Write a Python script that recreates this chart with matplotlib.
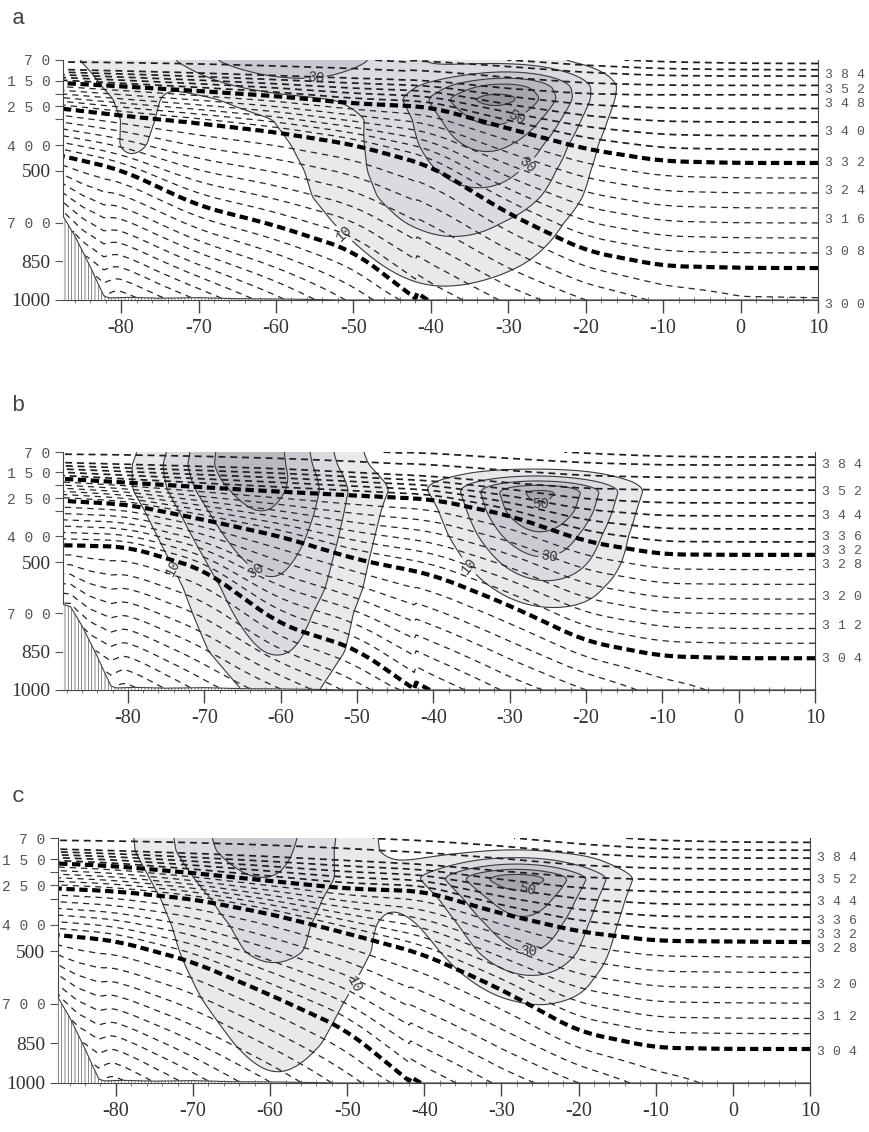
import numpy as np
import matplotlib
matplotlib.use("Agg")
import matplotlib.pyplot as plt
from matplotlib.ticker import MultipleLocator, FixedLocator
from matplotlib.transforms import blended_transform_factory

plt.rcParams['hatch.linewidth'] = 0.5

# ---------------- data ----------------
panel_names = ["a", "b", "c"]

# latitudes at which the key isentropes were traced
lat_nodes = [-90, -80, -70, -60, -50, -40, -30, -20, -10, 0, 10]

# pressure (hPa) of the 276 / 304 / 332 / 352 / 384 K surfaces along lat_nodes
p276 = {"a": [425, 495, 635, 712, 810, 1040, 1300, 1500, 1600, 1600, 1600],
        "b": [433, 440, 530, 745, 840, 1050, 1300, 1500, 1600, 1600, 1600],
        "c": [431, 460, 540, 665, 800, 1040, 1300, 1500, 1600, 1600, 1600]}
p304 = {"a": [250, 285, 315, 350, 398, 480, 665, 810, 868, 875, 876],
        "b": [258, 275, 335, 400, 490, 550, 670, 810, 868, 875, 875],
        "c": [258, 272, 302, 358, 432, 512, 645, 805, 866, 870, 871]}
p332 = {"a": [155, 172, 190, 210, 238, 252, 335, 415, 462, 469, 469],
        "b": [172, 190, 208, 225, 240, 255, 318, 420, 470, 472, 472],
        "c": [163, 177, 203, 233, 262, 272, 357, 425, 460, 463, 465]}
p352 = {"a": [105, 112, 120, 130, 140, 150, 180, 200, 205, 205, 205],
        "b": [110, 118, 126, 135, 150, 165, 190, 212, 218, 218, 218],
        "c": [110, 118, 128, 140, 155, 170, 195, 218, 227, 229, 229]}
p384 = {"a": [40, 45, 50, 55, 62, 75, 95, 118, 130, 132, 132],
        "b": [45, 50, 55, 60, 65, 75, 95, 112, 120, 121, 121],
        "c": [45, 50, 55, 60, 68, 80, 100, 128, 143, 146, 146]}
# potential temperature at the 70 hPa top
theta_top = {"a": [372, 373, 375, 378, 382, 390, 400, 412, 420, 424, 425],
             "b": [372, 373, 375, 378, 382, 388, 395, 402, 408, 410, 410],
             "c": [372, 373, 375, 378, 382, 388, 398, 410, 420, 424, 425]}

# surface potential temperature
sfc_lat = [-90, -87.5, -85, -83, -81, -78, -70, -60, -50, -40, -30, -20, -10, 0, 10]
theta_sfc = {"a": [252, 250, 245, 238, 233, 236, 245, 255, 265, 276.5, 285, 292, 297, 299.5, 299.7],
             "b": [252, 251, 246, 239, 234, 237, 246, 256, 266, 276.5, 285, 292, 298, 301.5, 302],
             "c": [252, 251, 246, 239, 234, 237, 246, 256, 266, 276.5, 285, 292, 298, 301.5, 302]}

# Antarctic topography (surface pressure)
topo_lat = [-90, -87.5, -86, -85, -84, -83, -82.2, -81.5, -79, -75, -70, -65, -60, -55, -52, 10]
topo_p = [650, 675, 750, 810, 870, 935, 985, 992, 990, 993, 991, 995, 996, 998, 1000, 1000]

# wind jets: axis speed (m/s), axis latitude and e-folding width (deg) on these levels
plev = [70, 120, 170, 220, 300, 400, 500, 600, 700, 850, 1000]
jets = {
    "a": [
        ([12, 28, 50, 60, 48, 35, 26, 19, 13, 7, 2],
         [-29, -29, -30, -31, -31, -31, -30.5, -30, -30, -30, -30],
         [11] * 11),
        ([0, 3, 7, 11, 14, 17, 19, 19, 17, 12, 6],
         [-52, -52, -51, -50, -48, -46, -45, -44, -43, -41, -40],
         [16, 16, 16, 16, 15, 15, 14, 14, 13, 12, 10]),
        ([40, 30, 20, 9, 3, 1, 0, 0, 0, 0, 0],
         [-58] * 11,
         [18] * 11),
        ([12, 12, 12, 12, 12, 11.5, 6, 0, 0, 0, 0],
         [-82, -80.5, -79.5, -78.5, -78, -78.5, -79, -79, -79, -79, -79],
         [4] * 11),
    ],
    "b": [
        ([46, 46, 45, 43, 40, 36, 32, 28.5, 25, 20.5, 15],
         [-64, -64, -63.5, -63, -62.5, -62, -61.5, -61, -61, -60.5, -60],
         [12, 12.5, 13, 13.5, 13, 12.5, 12, 11.5, 11, 10.5, 8]),
        ([2, 4, 22, 52, 49, 38, 28, 17, 8, 2, 0],
         [-27, -27, -26.5, -26, -26, -26, -25.5, -25, -24, -23, -23],
         [13, 13, 12, 10.5, 10, 10, 10, 10, 10, 10, 10]),
    ],
    "c": [
        ([35, 34, 32, 30, 26, 23, 21.5, 18, 15, 12.5, 9],
         [-62, -62, -61.5, -61, -60.5, -60, -59.5, -59.5, -59.5, -59, -59],
         [14, 14, 14, 14, 14, 14, 14, 14, 14, 12, 10]),
        ([5, 10, 30, 56, 46, 37, 30, 19, 10, 3, 0],
         [-28, -28, -28, -28, -27.5, -27, -26.5, -26, -25, -24, -24],
         [12, 12, 11.5, 11.5, 11, 10.5, 10, 10, 10, 10, 10]),
    ],
}

# where the wind contour labels sit (lat, hPa)
wind_label_pos = {"a": [(-51, 737), (-28, 465), (-29, 290), (-55, 100)],
                  "b": [(-74, 520), (-64, 562), (-34, 484), (-25, 445), (-26, 297)],
                  "c": [(-49, 628), (-26.5, 446), (-26.5, 279)]}

# isentrope labels on the right hand side
right_labels = {"a": [384, 352, 348, 340, 332, 324, 316, 308, 300],
                "b": [384, 352, 344, 336, 332, 328, 320, 312, 304],
                "c": [384, 352, 344, 336, 332, 328, 320, 312, 304]}
right_label_p = {"a": [128, 186, 241, 349, 469, 578, 690, 814, 1019],
                 "b": [121, 226, 320, 402, 457, 512, 637, 750, 879],
                 "c": [146, 229, 313, 385, 438, 491, 628, 750, 882]}

p_ticks = [70, 150, 250, 400, 500, 700, 850, 1000]
p_tick_labels = ["7 0", "1 5 0", "2 5 0", "4 0 0", "500", "7 0 0", "850", "1000"]
lat_ticks = [-80, -70, -60, -50, -40, -30, -20, -10, 0, 10]

# ---------------- grids ----------------
lat = np.linspace(-90, 10, 401)
p = np.linspace(70, 1000, 311)
LAT, P = np.meshgrid(lat, p)
ps = np.interp(lat, topo_lat, topo_p)


def smooth(y, n, axis=-1):
    y = np.moveaxis(np.asarray(y, float), axis, -1)
    pad = np.concatenate([np.repeat(y[..., :1], n, -1), y, np.repeat(y[..., -1:], n, -1)], -1)
    k = np.ones(n) / n
    out = np.apply_along_axis(lambda r: np.convolve(r, k, mode="same"), -1, pad)[..., n:-n]
    return np.moveaxis(out, -1, axis)


def theta_field(name):
    surf = {276: p276[name], 304: p304[name], 332: p332[name], 352: p352[name], 384: p384[name]}
    lev = {th: smooth(np.interp(lat, lat_nodes, v), 25) for th, v in surf.items()}
    top = smooth(np.interp(lat, lat_nodes, theta_top[name]), 25)
    ths = smooth(np.interp(lat, sfc_lat, theta_sfc[name]), 9)
    th = np.empty_like(LAT)
    for j in range(len(lat)):
        pp, tt = [70.0], [top[j]]
        for t in sorted(surf, reverse=True):
            pj = lev[t][j]
            if pj > pp[-1] + 1 and pj < ps[j] - 2 and t < tt[-1]:
                pp.append(pj)
                tt.append(t)
        pp.append(max(ps[j], pp[-1] + 1))
        tt.append(min(ths[j], tt[-1] - 0.2))
        th[:, j] = np.interp(p, pp, tt)
    return np.ma.masked_where(P > ps[None, :] + 1, th)


def wind_field(name):
    u = np.zeros_like(LAT)
    for speed, centre, width in jets[name]:
        U = np.interp(P, plev, speed)
        C = np.interp(P, plev, centre)
        W = np.interp(P, plev, width)
        u += U * np.exp(-((LAT - C) / W) ** 2)
    return smooth(u, 9, axis=0)


# ---------------- figure ----------------
fig = plt.figure(figsize=(8.69, 11.32), dpi=100)
rects = {"a": [0.0725, 0.7350, 0.8688, 0.2120],
         "b": [0.0725, 0.3905, 0.8654, 0.2102],
         "c": [0.0667, 0.0433, 0.8654, 0.2164]}
xlims = {"a": (-87.5, 10), "b": (-88.5, 10), "c": (-87.5, 10)}
letter_y = {"a": 0.984, "b": 0.642, "c": 0.296}

shade = ['#e9e9e9', '#dadae0', '#c9c9d1', '#b8b8c1', '#a6a6af', '#95959d']
thick = [276, 304, 332]
# 4 K interval in the troposphere, 16 K above 352 K
thin_low = [v for v in range(228, 332, 4) if v not in thick]
thin_high = list(range(336, 356, 4)) + list(range(368, 480, 16))

for name in panel_names:
    ax = fig.add_axes(rects[name])
    u = wind_field(name)
    th = theta_field(name)

    ax.contourf(LAT, P, u, levels=[10, 20, 30, 40, 50, 60, 200], colors=shade)
    ax.contour(LAT, P, u, levels=[20, 40, 60], colors='#3c3c3c', linewidths=0.8)
    cs = ax.contour(LAT, P, u, levels=[10, 30, 50], colors='#3c3c3c', linewidths=0.8)
    labs = ax.clabel(cs, manual=wind_label_pos[name], fmt='%d',
                     fontsize=10, inline=True, inline_spacing=2)
    for t in labs:
        t.set_fontfamily('Liberation Mono')
        t.set_color('#333333')

    ax.contour(LAT, P, th, levels=thin_low, colors='#262626', linewidths=0.9,
               linestyles=[(0, (5, 4))])
    ax.contour(LAT, P, th, levels=thin_high, colors='#1e1e1e', linewidths=1.25,
               linestyles=[(0, (4, 2.8))])
    ax.contour(LAT, P, th, levels=thick, colors='black', linewidths=3.0,
               linestyles=[(0, (2.0, 1.1))])

    ax.fill_between(topo_lat, topo_p, 1000, facecolor='white', edgecolor='#555555',
                    hatch='|||||', linewidth=0, zorder=3)
    ax.plot(topo_lat, topo_p, color='#444444', lw=0.8, zorder=4)

    ax.set_xlim(*xlims[name])
    ax.set_ylim(1000, 70)
    ax.set_yticks(p_ticks)
    ax.set_yticklabels(p_tick_labels)
    ax.yaxis.set_minor_locator(FixedLocator([200, 300]))
    for t in ax.get_yticklabels():
        if " " in t.get_text():
            t.set_fontfamily('Liberation Mono')
            t.set_fontsize(10.5)
            t.set_color('#555555')
        else:
            t.set_fontfamily('Liberation Serif')
            t.set_fontsize(14)
            t.set_color('#333333')
    ax.set_xticks(lat_ticks)
    ax.set_xticklabels([str(v) for v in lat_ticks], fontfamily='Liberation Serif',
                       fontsize=14.5, color='#333333')
    ax.xaxis.set_minor_locator(MultipleLocator(2))
    ax.tick_params(axis='x', which='major', direction='out', length=9, width=1.0,
                   color='#444444', pad=5)
    ax.tick_params(axis='x', which='minor', direction='inout', length=5, width=0.6,
                   color='#666666')
    ax.tick_params(axis='y', which='both', direction='out', length=6, width=0.8,
                   color='#555555', pad=3)
    ax.spines['top'].set_visible(False)
    for s in ['left', 'right', 'bottom']:
        ax.spines[s].set_linewidth(0.8)
        ax.spines[s].set_color('#444444')

    tr = blended_transform_factory(ax.transAxes, ax.transData)
    for val, pv in zip(right_labels[name], right_label_p[name]):
        ax.text(1.009, pv, " ".join(str(val)), transform=tr, ha='left', va='center',
                fontfamily='Liberation Mono', fontsize=9.5, color='#555555', clip_on=False)

    fig.text(0.021, letter_y[name], name, fontfamily='Liberation Mono', fontsize=16,
             color='#444444', ha='center', va='center')

fig.savefig("out.png", dpi=100)
